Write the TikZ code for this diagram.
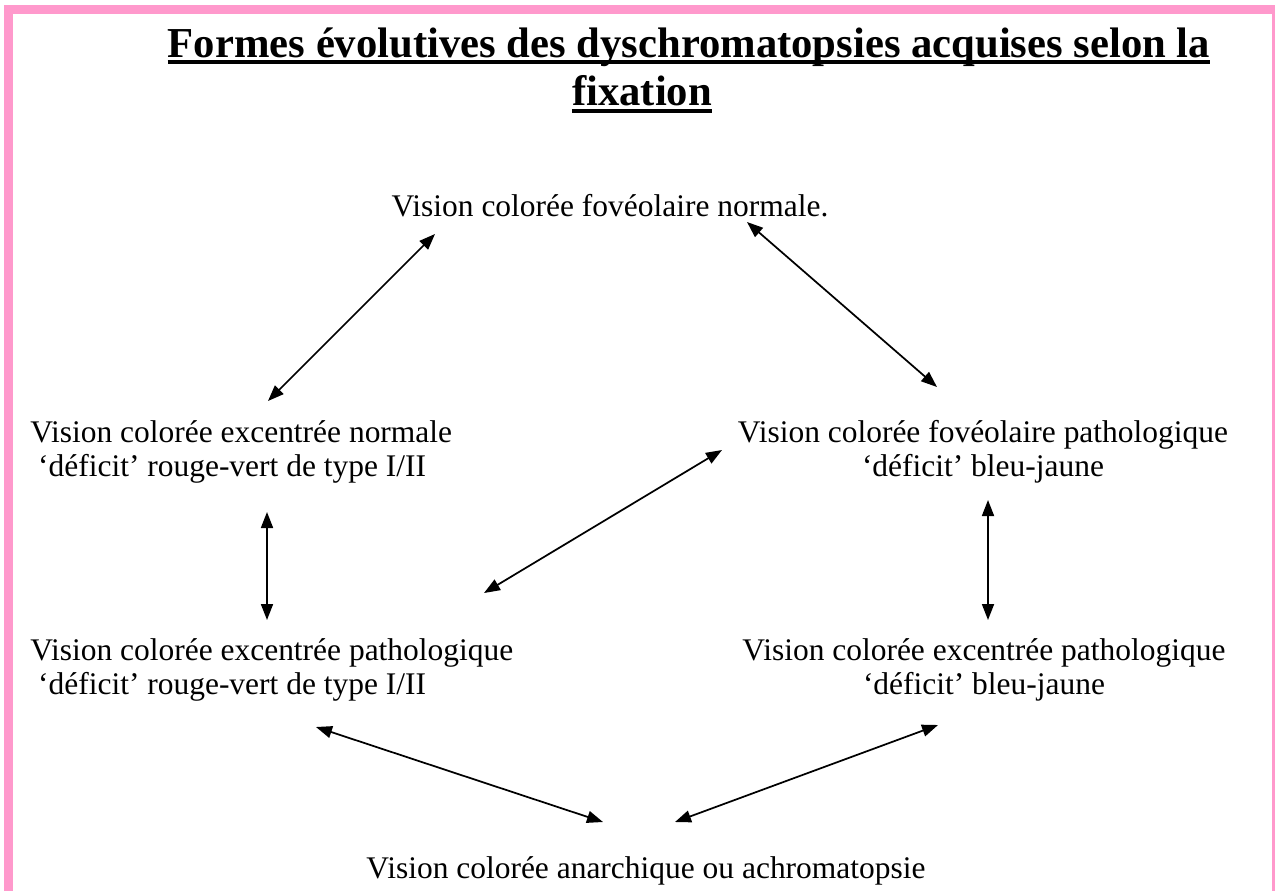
\documentclass[tikz,border=0pt]{standalone}
\usepackage{fontspec}
\setmainfont{Liberation Serif}
\usetikzlibrary{arrows.meta}
\definecolor{framepink}{HTML}{FF99CC}
\tikzset{txt/.style={inner sep=0pt,font=\fontsize{23.6}{25.5}\selectfont},
         heading/.style={inner sep=0pt,font=\fontsize{32}{36}\selectfont\bfseries},
         uline/.style={line width=3pt},
         link/.style={{Triangle[length=12pt,width=9pt]}-{Triangle[length=12pt,width=9pt]},line width=1.3pt}
         }

\begin{document}
\begin{tikzpicture}[x=0.75pt,y=-0.75pt]
\useasboundingbox (0,0) rectangle (1275,890);
\fill[white] (0,0) rectangle (1275,890);
\begin{scope}
\clip (0,0) rectangle (1275,890);
\draw[framepink,line width=6.75pt] (8.5,9.5) rectangle (1276.5,900);
\end{scope}
% title
\node[heading,anchor=base] (title1) at (689,57) {Formes évolutives des dyschromatopsies acquises selon la};
\node[heading,anchor=base] (title2) at (642,105) {fixation};
\draw[uline] ([yshift=-3.75pt]title1.base west) -- ([yshift=-3.75pt]title1.base east);
\draw[uline] ([yshift=-4.5pt]title2.base west) -- ([yshift=-4.5pt]title2.base east);
% states
\node[txt,anchor=base] (fovn) at (610,216) {Vision colorée fovéolaire normale.};
\node[txt,anchor=north west,align=left] (exn) at (30,420.5)
  {Vision colorée excentrée normale\\\hspace{.25em}‘déficit’ rouge-vert de type I/II};
\node[txt,anchor=north,align=center] (fovp) at (983,420.5)
  {Vision colorée fovéolaire pathologique\\‘déficit’ bleu-jaune};
\node[txt,anchor=north west,align=left] (exp) at (30,638.5)
  {Vision colorée excentrée pathologique\\\hspace{.25em}‘déficit’ rouge-vert de type I/II};
\node[txt,anchor=north,align=center] (exbj) at (984,638.5)
  {Vision colorée excentrée pathologique\\‘déficit’ bleu-jaune};
\node[txt,anchor=base] (anar) at (646,878) {Vision colorée anarchique ou achromatopsie};
% arrow ends
\coordinate (fovn-l) at (435,234);
\coordinate (exn-up) at (268,401);
\coordinate (fovn-r) at (747,222);
\coordinate (fovp-up) at (937,387);
\coordinate (exn-dn) at (267,512);
\coordinate (exp-up) at (267,620);
\coordinate (fovp-l) at (722,450);
\coordinate (exp-r) at (484,593);
\coordinate (fovp-dn) at (988,500);
\coordinate (exbj-up) at (988,620);
\coordinate (exp-dn) at (316,727);
\coordinate (anar-l) at (603,822);
\coordinate (exbj-dn) at (938,725);
\coordinate (anar-r) at (675,822);
% links
\draw[link] (exn-up) -- (fovn-l);
\draw[link] (fovn-r) -- (fovp-up);
\draw[link] (exn-dn) -- (exp-up);
\draw[link] (fovp-l) -- (exp-r);
\draw[link] (fovp-dn) -- (exbj-up);
\draw[link] (exp-dn) -- (anar-l);
\draw[link] (exbj-dn) -- (anar-r);
\end{tikzpicture}
\end{document}
